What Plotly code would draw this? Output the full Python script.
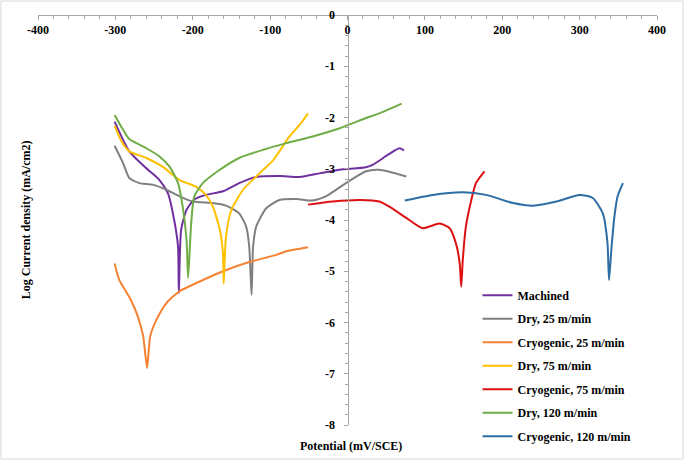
import plotly.graph_objects as go

# Potential (mV/SCE) and log current density for each condition
machined_x = [-301, -282, -260, -243, -232, -224, -219, -218, -215, -208, -198, -183, -161, -140, -118, -88, -62, -36, -10, 24, 33, 52, 67, 73]
machined_y = [-2.08, -2.66, -2.99, -3.22, -3.48, -4.0, -4.52, -5.43, -4.19, -3.8, -3.6, -3.51, -3.44, -3.28, -3.16, -3.14, -3.16, -3.09, -3.02, -2.97, -2.92, -2.73, -2.6, -2.64]

dry25_x = [-301, -290, -282, -269, -252, -234, -217, -200, -174, -157, -140, -131, -127, -124, -122, -118, -105, -88, -66, -45, -28, -2, 24, 41, 76]
dry25_y = [-2.55, -2.89, -3.18, -3.28, -3.31, -3.41, -3.54, -3.64, -3.67, -3.72, -3.87, -4.13, -4.52, -5.46, -4.52, -4.13, -3.77, -3.61, -3.59, -3.62, -3.54, -3.28, -3.05, -3.02, -3.15]

cryo25_x = [-301, -295, -280, -271, -264, -259, -255, -247, -234, -217, -191, -161, -127, -92, -79, -51]
cryo25_y = [-4.85, -5.17, -5.56, -5.88, -6.27, -6.89, -6.27, -5.95, -5.62, -5.39, -5.2, -5.0, -4.82, -4.68, -4.61, -4.53]

dry75_x = [-301, -292, -282, -260, -239, -217, -196, -183, -174, -165, -161, -160, -157, -150, -135, -118, -96, -75, -60, -51]
dry75_y = [-2.16, -2.47, -2.66, -2.79, -2.96, -3.22, -3.35, -3.51, -3.74, -4.19, -4.65, -5.24, -4.32, -3.8, -3.41, -3.15, -2.83, -2.37, -2.11, -1.92]

cryo75_x = [-51, -19, 16, 41, 54, 76, 97, 119, 132, 140, 145, 147, 149, 153, 160, 166, 177]
cryo75_y = [-3.7, -3.64, -3.61, -3.64, -3.74, -3.96, -4.16, -4.07, -4.16, -4.45, -4.84, -5.3, -4.78, -4.13, -3.61, -3.28, -3.05]

dry120_x = [-301, -290, -282, -260, -243, -230, -219, -213, -208, -206, -202, -198, -187, -165, -140, -109, -79, -45, -10, 24, 41, 70]
dry120_y = [-1.95, -2.24, -2.42, -2.6, -2.76, -2.96, -3.28, -3.74, -4.39, -5.13, -4.06, -3.54, -3.28, -3.02, -2.79, -2.63, -2.5, -2.37, -2.21, -2.01, -1.92, -1.73]

cryo120_x = [74, 110, 149, 179, 214, 240, 270, 300, 317, 330, 336, 338, 341, 345, 349, 356]
cryo120_y = [-3.62, -3.51, -3.46, -3.51, -3.67, -3.72, -3.64, -3.51, -3.57, -3.87, -4.45, -5.17, -4.58, -3.93, -3.54, -3.28]

names = ["Machined", "Dry, 25 m/min", "Cryogenic, 25 m/min", "Dry, 75 m/min",
         "Cryogenic, 75 m/min", "Dry, 120 m/min", "Cryogenic, 120 m/min"]
colors = ["#7030A0", "#808080", "#F58233", "#FFC000", "#DD1111", "#70AD47", "#2E6DA4"]
series = [(machined_x, machined_y), (dry25_x, dry25_y), (cryo25_x, cryo25_y),
          (dry75_x, dry75_y), (cryo75_x, cryo75_y), (dry120_x, dry120_y),
          (cryo120_x, cryo120_y)]

x_ticks = [-400, -300, -200, -100, 0, 100, 200, 300, 400]
y_ticks = [0, -1, -2, -3, -4, -5, -6, -7, -8]

FONT = dict(family="Liberation Serif", size=12, color="black", weight="bold")

fig = go.Figure()
for i, ((xs, ys), name, col) in enumerate(zip(series, names, colors)):
    fig.add_trace(go.Scatter(x=xs, y=ys, mode="lines", name=name,
                             line=dict(color=col, width=2, shape="spline", smoothing=0.6),
                             legendgroup=f"g{i}"))

fig.update_layout(
    width=685, height=461,
    margin=dict(l=38, r=28, t=15, b=36, autoexpand=False),
    paper_bgcolor="white", plot_bgcolor="white",
    font=FONT,
    showlegend=True,
    legend=dict(x=0.71, y=0.352, xanchor="left", yanchor="top",
                font=FONT, traceorder="grouped", tracegroupgap=4.5,
                bgcolor="rgba(0,0,0,0)"),
    xaxis=dict(range=[-400, 400], side="bottom", anchor="free", position=1.0,
               tickvals=x_ticks, ticktext=[str(v) for v in x_ticks],
               showline=True, linecolor="#A6A6A6", linewidth=1,
               ticks="outside", ticklen=4, tickcolor="#A6A6A6",
               minor=dict(dtick=20, ticks="outside", ticklen=3, tickcolor="#A6A6A6"),
               showgrid=False, zeroline=False, tickfont=FONT, automargin=False),
    yaxis=dict(range=[-8, 0], anchor="free", position=0.5, tickvals=y_ticks,
               ticktext=[str(v) for v in y_ticks],
               showline=True, linecolor="#A6A6A6", linewidth=1,
               ticks="outside", ticklen=4, tickcolor="#A6A6A6",
               minor=dict(dtick=0.2, ticks="outside", ticklen=3, tickcolor="#A6A6A6"),
               ticklabelstandoff=6,
               showgrid=False, zeroline=False, tickfont=FONT, automargin=False),
    annotations=[
        dict(text="Potential (mV/SCE)", x=0.505, y=-0.05, xref="paper", yref="paper",
             showarrow=False, font=FONT, xanchor="center", yanchor="middle"),
        dict(text="Log Current density (mA/cm2)", x=-0.019, y=0.5, xref="paper", yref="paper",
             showarrow=False, font=FONT, textangle=-90, xanchor="center", yanchor="middle"),
    ],
    shapes=[dict(type="rect", xref="paper", yref="paper", x0=-0.06, x1=1.042,
                 y0=-0.083, y1=1.034, line=dict(color="#D9D9D9", width=1))],
)

fig.write_html("out.html", config={"displayModeBar": False},
               post_script="document.body.style.margin='0';")
